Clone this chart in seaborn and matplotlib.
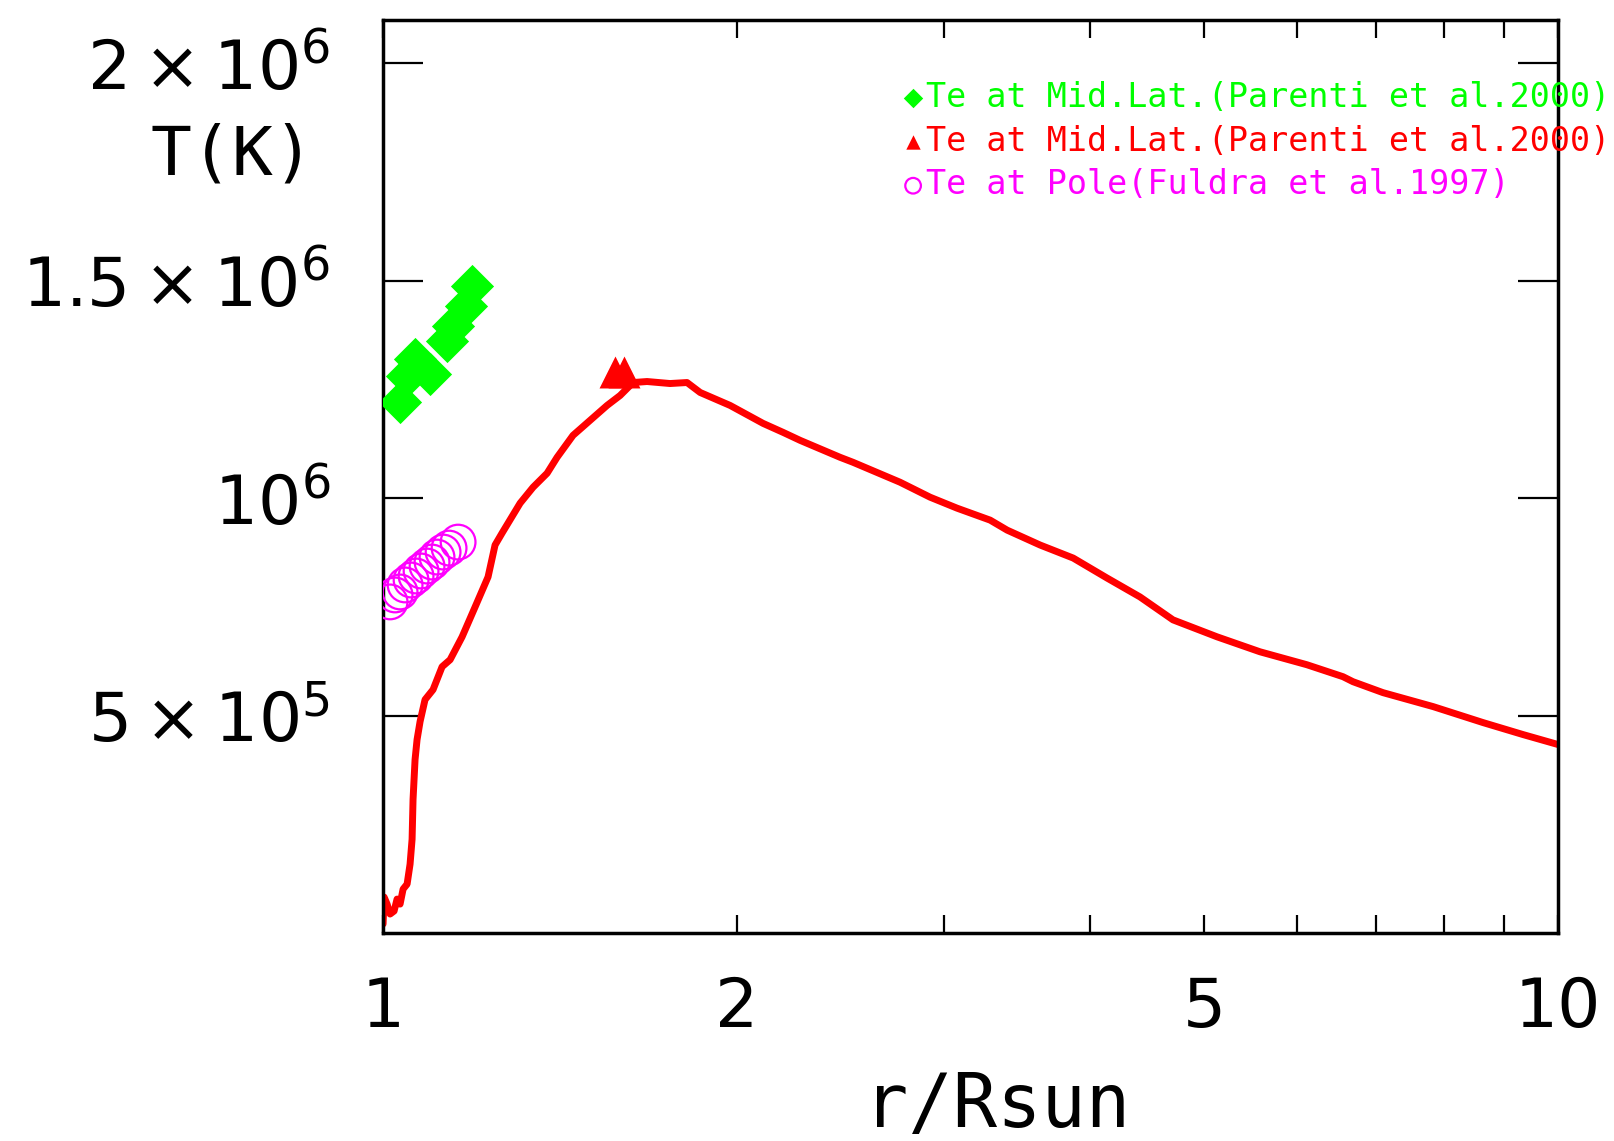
import numpy as np
import pandas as pd
import matplotlib
matplotlib.use("Agg")
import matplotlib.pyplot as plt
import seaborn as sns

# model curve: electron temperature vs heliocentric distance
r_model = [1.000, 1.0020, 1.0079, 1.0138, 1.0218, 1.0278, 1.0339, 1.0400, 1.0482, 1.0543,
           1.0585, 1.0605, 1.0647, 1.0689, 1.0752, 1.0857, 1.1029, 1.1226, 1.1404, 1.1675,
           1.1977, 1.2284, 1.2454, 1.2626, 1.3081, 1.3418, 1.3791, 1.4064, 1.4510, 1.5002,
           1.5511, 1.5912, 1.6322, 1.6776, 1.7548, 1.8143, 1.8616, 1.9741, 2.1059, 2.1903,
           2.2644, 2.4489, 2.5119, 2.7542, 2.9216, 3.0800, 3.2862, 3.3975, 3.6245, 3.8668,
           4.1317, 4.4077, 4.7026, 5.1264, 5.5762, 6.1136, 6.5617, 6.6915, 7.0972, 7.8297,
           8.6327, 9.3376, 10.0]
T_model = [20.6e3, 82.6e3, 66.5e3, 43.6e3, 50.5e3, 78.0e3, 66.5e3, 100.9e3, 112.4e3, 158.3e3,
           215.6e3, 307.4e3, 399.1e3, 445.0e3, 486.3e3, 536.7e3, 559.7e3, 612.4e3, 628.5e3, 681.2e3,
           750.1e3, 818.9e3, 892.3e3, 919.8e3, 988.6e3, 1025.3e3, 1057.4e3, 1094.1e3, 1144.6e3, 1179.0e3,
           1213.4e3, 1236.3e3, 1266.1e3, 1268.4e3, 1263.8e3, 1266.1e3, 1243.2e3, 1213.4e3, 1172.1e3, 1151.4e3,
           1133.1e3, 1094.1e3, 1082.6e3, 1036.8e3, 1002.3e3, 977.1e3, 949.6e3, 926.6e3, 892.3e3, 862.4e3,
           816.5e3, 773.0e3, 720.2e3, 681.2e3, 646.8e3, 617.0e3, 589.5e3, 578.0e3, 552.8e3, 520.7e3,
           484.0e3, 456.4e3, 433.5e3]

# Parenti et al. 2000, mid latitude
r_mid = [1.0339, 1.0482, 1.0647, 1.0965, 1.1336, 1.1472, 1.1768, 1.1906]
T_mid = [1220.2e3, 1282.1e3, 1321.1e3, 1286.7e3, 1362.4e3, 1396.8e3, 1442.7e3, 1488.5e3]

r_mid2 = [1.5755, 1.6038]
T_mid2 = [1290e3, 1290e3]

# Fludra et al. 1997, pole
r_pole = [1.0138, 1.0238, 1.0339, 1.0441, 1.0564, 1.0668, 1.0773, 1.0900, 1.1007, 1.1115,
          1.1248, 1.1381, 1.1584]
T_pole = [761.5e3, 777.5e3, 784.4e3, 800.5e3, 811.9e3, 821.1e3, 832.6e3, 844.0e3, 853.2e3, 864.7e3,
          876.2e3, 885.3e3, 899.1e3]

labels = ["Te at Mid.Lat.(Parenti et al.2000)",
          "Te at Mid.Lat.(Parenti et al.2000)",
          "Te at Pole(Fuldra et al.1997)"]

xticks = [1, 2, 3, 4, 5, 6, 7, 8, 9, 10]
xticklabels = ["1", "2", "", "", "5", "", "", "", "", "10"]
yticks = [5e5, 1e6, 1.5e6, 2e6]
yticklabels = [r"$5\times10^{5}$", r"$10^{6}$", r"$1.5\times10^{6}$", r"$2\times10^{6}$"]

GREEN, RED, MAGENTA = "#00ff00", "#ff0000", "#ff00ff"

sns.set_style("white")
plt.rcParams["mathtext.default"] = "regular"
plt.rcParams["font.family"] = ["DejaVu Sans"]
for k in ["text.color", "axes.labelcolor", "xtick.color", "ytick.color"]:
    plt.rcParams[k] = "black"

fig = plt.figure(figsize=(16.15, 11.41), dpi=100)
ax = fig.add_subplot(111)
fig.subplots_adjust(left=0.2372, right=0.9647, top=0.9825, bottom=0.1823)

model = pd.DataFrame({"r": r_model, "T": T_model})
sns.lineplot(data=model, x="r", y="T", color=RED, linewidth=5, ax=ax, sort=False, estimator=None)

sns.scatterplot(x=r_mid, y=T_mid, marker="D", s=22**2, color=GREEN, linewidth=0,
                ax=ax, label=labels[0], zorder=3)
sns.scatterplot(x=r_mid2, y=T_mid2, marker="^", s=23**2, color=RED, linewidth=0,
                ax=ax, label=labels[1], zorder=3)
sns.scatterplot(x=r_pole, y=T_pole, marker="o", s=25**2, facecolor="none",
                edgecolor=MAGENTA, linewidth=1.6, ax=ax, label=labels[2], zorder=3)

ax.set_xscale("log")
ax.set_xlim(1, 10)
ax.set_ylim(0, 2.1e6)

ax.set_xticks(xticks)
ax.set_xticklabels(xticklabels)
ax.xaxis.set_minor_locator(matplotlib.ticker.NullLocator())
ax.set_yticks(yticks)
ax.set_yticklabels(yticklabels)

ax.tick_params(axis="x", which="both", direction="in", length=13, width=1.6,
               top=True, bottom=True, labelsize=49, pad=30)
ax.tick_params(axis="y", direction="in", length=29, width=1.6,
               left=True, right=True, labelsize=49, pad=38)

for s in ax.spines.values():
    s.set_visible(True)
    s.set_linewidth(2.5)
    s.set_color("black")

ax.set_xlabel("r/Rsun", fontsize=53, family="DejaVu Sans Mono", va="center")
ax.xaxis.set_label_coords(0.523, -0.19)
ax.set_ylabel("T(K)", fontsize=49, family="DejaVu Sans Mono", rotation=0,
              ha="center", va="center")
ax.yaxis.set_label_coords(-0.128, 0.852)

h, l = ax.get_legend_handles_labels()
ax.legend(h, l, loc="upper left", bbox_to_anchor=(0.4426, 0.933), frameon=False,
          prop={"family": "DejaVu Sans Mono", "size": 24},
          labelcolor=[GREEN, RED, MAGENTA], markerscale=0.45,
          handlelength=0.6, handletextpad=0.1, borderpad=0, borderaxespad=0,
          labelspacing=0.32)

fig.savefig("out.png", dpi=100)
